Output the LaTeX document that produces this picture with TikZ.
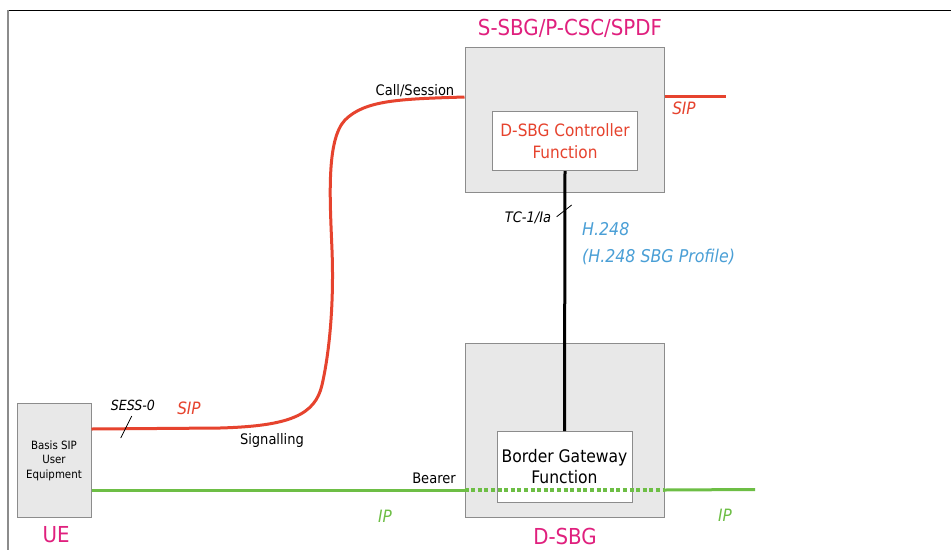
\documentclass[tikz,border=0pt]{standalone}
\usepackage{fontspec}
\setmainfont{DejaVu Sans Condensed}
\definecolor{mag}{HTML}{E0207E}
\definecolor{sipred}{HTML}{E6432E}
\definecolor{ipgreen}{HTML}{6DBE45}
\definecolor{hblue}{HTML}{4A9FD6}
\definecolor{boxfill}{HTML}{E8E8E8}
\definecolor{boxline}{HTML}{8C8C8C}
\tikzset{
  outerbox/.style={draw=boxline, fill=boxfill, line width=1pt},
  innerbox/.style={draw=boxline, fill=white, line width=1pt},
  biglabel/.style={text=mag, font=\fontsize{22}{24}\selectfont},
  plain/.style={font=\fontsize{14.5}{16}\selectfont, inner sep=0pt},
  itl/.style={font=\fontsize{14}{16}\selectfont\itshape, inner sep=0pt},
  sipline/.style={draw=sipred, line width=3pt},
  ipline/.style={draw=ipgreen, line width=3pt},
}
\begin{document}
\begin{tikzpicture}[x=1pt,y=-1pt]
\useasboundingbox (0,0) rectangle (951,550);
\fill[white] (0,0) rectangle (951,550);
% frame
\draw[black, line width=1pt] (8,10) -- (951,10);
\draw[boxline, line width=1.5pt] (8,10) -- (8,550);

% boxes
\node[outerbox, minimum width=199pt, minimum height=145pt, inner sep=0pt] (ssbg) at (564.5,119.5) {};
\node[innerbox, minimum width=145pt, minimum height=59pt, inner sep=0pt, align=center, text=sipred, font=\fontsize{17}{22}\selectfont] (ctrl) at (565,141) {D-SBG Controller\\Function};
\node[outerbox, minimum width=199pt, minimum height=174pt, inner sep=0pt] (dsbg) at (564.5,430) {};
\node[innerbox, minimum width=135pt, minimum height=71pt, inner sep=0pt, align=center, font=\fontsize{17.3}{21}\selectfont] (bgf) at (564.5,467) {Border Gateway\\Function};
\node[outerbox, minimum width=74pt, minimum height=114pt, inner sep=0pt, align=center, font=\fontsize{11.4}{14.5}\selectfont] (ue) at (54,460.5) {Basis SIP\\User\\Equipment};

% big labels
\node[biglabel] (ttl) at (570,28) {S-SBG/P-CSC/SPDF};
\node[biglabel] (uel) at (56,535) {UE};
\node[biglabel] (dl) at (565,536) {D-SBG};

% SIP signalling curve
\coordinate (s0) at (ue.east |- 0,429);
\coordinate (s1) at (ssbg.west |- 0,97);
\draw[sipline] (s0) -- (220,428) .. controls (290,426) and (315,415) .. (322,385)
  .. controls (330,350) and (334,300) .. (332,250)
  .. controls (330,200) and (326,140) .. (345,120)
  .. controls (365,100) and (400,99) .. (s1);
\coordinate (r0) at (ssbg.east |- 0,96.7);
\coordinate (r1) at (726,96.7);
\draw[sipline] (r0) -- (r1);

% H.248 line
\draw[black, line width=3pt] (ctrl.south) -- (bgf.north);

% IP bearer
\coordinate (g0) at (ue.east |- 0,490);
\coordinate (g1) at (dsbg.west |- 0,490);
\coordinate (g2) at (dsbg.east |- 0,490);
\coordinate (g3) at (755,489.5);
\draw[ipline] (g0) -- (g1);
\draw[ipgreen, line width=3.8pt, dash pattern=on 4pt off 2.6pt] (g1) -- (g2);
\draw[ipline] (g2) -- (g3);

% ticks
\coordinate (t0) at (120.7,438);
\coordinate (t1) at (131.7,416);
\draw[black, line width=0.8pt] (t0) -- (t1);
\coordinate (u0) at (556.7,216.7);
\coordinate (u1) at (571.7,205);
\draw[black, line width=0.8pt] (u0) -- (u1);

% labels
\node[itl] (sess) at (133,405) {SESS-0};
\node[itl, text=sipred, font=\fontsize{17}{20}\selectfont\itshape] (sipa) at (189,408) {SIP};
\node[plain] (sig) at (272,440) {Signalling};
\node[plain] (call) at (415,91) {Call/Session};
\node[itl, text=sipred, font=\fontsize{17}{20}\selectfont\itshape] (sipb) at (684,108) {SIP};
\node[itl, font=\fontsize{14.5}{16}\selectfont\itshape] (tc) at (528,218) {TC-1/Ia};
\node[itl, text=hblue, anchor=west, font=\fontsize{17.6}{20}\selectfont\itshape] (h1) at (582,229.5) {H.248};
\node[itl, text=hblue, anchor=west, font=\fontsize{17.6}{20}\selectfont\itshape] (h2) at (582,257) {(H.248 SBG Profile)};
\node[plain] (bear) at (434,478) {Bearer};
\node[itl, text=ipgreen, font=\fontsize{17}{20}\selectfont\itshape] (ip1) at (385,516.5) {IP};
\node[itl, text=ipgreen, font=\fontsize{17}{20}\selectfont\itshape] (ip2) at (725,515) {IP};
\end{tikzpicture}
\end{document}
